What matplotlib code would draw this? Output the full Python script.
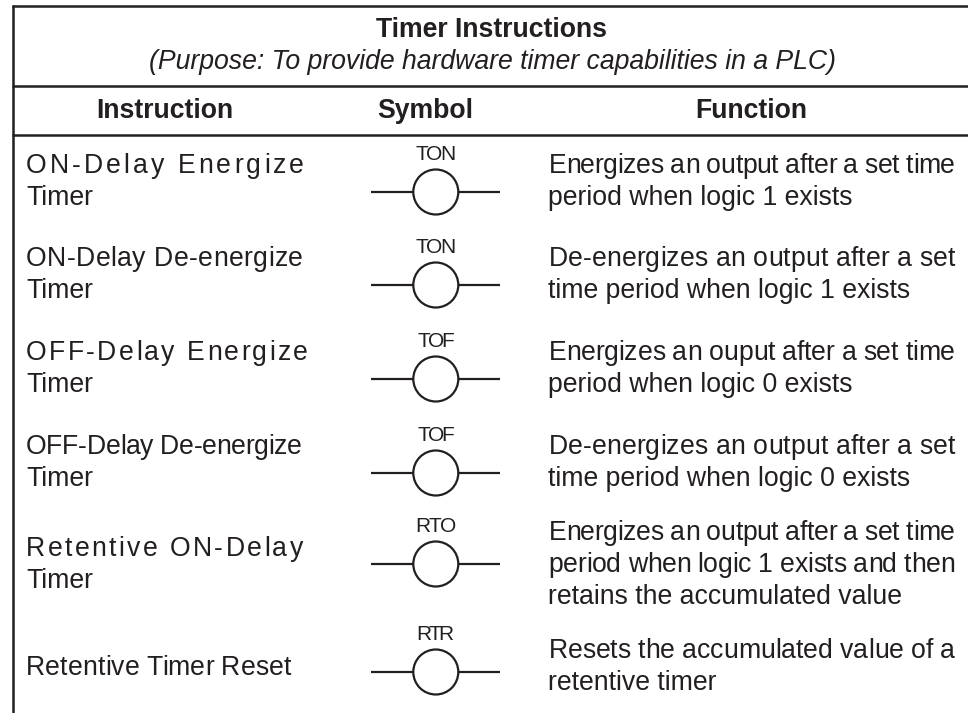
import matplotlib
matplotlib.use("Agg")
from matplotlib import pyplot as plt
from matplotlib.patches import Circle
from matplotlib.text import Text

plt.rcParams['font.family'] = ['Liberation Sans', 'DejaVu Sans']

W, H = 968, 713
title = "Timer Instructions"
subtitle = "(Purpose: To provide hardware timer capabilities in a PLC)"
headers = ["Instruction", "Symbol", "Function"]
names = [
    ["ON-Delay Energize", "Timer"],
    ["ON-Delay De-energize", "Timer"],
    ["OFF-Delay Energize", "Timer"],
    ["OFF-Delay De-energize", "Timer"],
    ["Retentive ON-Delay", "Timer"],
    ["Retentive Timer Reset"],
]
symbols = ["TON", "TON", "TOF", "TOF", "RTO", "RTR"]
functions = [
    ["Energizes an output after a set time", "period when logic 1 exists"],
    ["De-energizes an output after a set", "time period when logic 1 exists"],
    ["Energizes an ouput after a set time", "period when logic 0 exists"],
    ["De-energizes an output after a set", "time period when logic 0 exists"],
    ["Energizes an output after a set time", "period when logic 1 exists and then", "retains the accumulated value"],
    ["Resets the accumulated value of a", "retentive timer"],
]
rung_y = [192, 285, 379, 473, 564, 672]
name_base = [-19, -19, -19, -19, -8, 3]
func_base = [-19, -19, -19, -19, -24, -14]
LINE = 32
FS = 19.2
INK = '#231f20'


class FitText(Text):
    # matplotlib has no letter spacing: spread the glyphs so the line ends at x_end
    def __init__(self, *args, x_end=None, **kw):
        super().__init__(*args, **kw)
        self.x_end = x_end

    def draw(self, renderer):
        s = self.get_text()
        prop = self.get_fontproperties()
        x0, y0 = self.get_transform().transform(self.get_position())
        x1, _ = self.get_transform().transform((self.x_end, 0))
        width = lambda t: renderer.get_text_width_height_descent(t, prop, False)[0]
        step = (x1 - x0 - width(s)) / (len(s) - 1)
        gc = renderer.new_gc()
        gc.set_foreground(self.get_color())
        gc.set_antialiased(True)
        for i, ch in enumerate(s):
            renderer.draw_text(gc, x0 + width(s[:i]) + i * step, renderer.height - y0, ch, prop, 0, False)
        gc.restore()


fig = plt.figure(figsize=(W / 100, H / 100), dpi=100)
ax = fig.add_axes([0, 0, 1, 1])
ax.set_xlim(0, W)
ax.set_ylim(H, 0)
ax.axis('off')


def put(x, y, s, x_end=None, **kw):
    kw.setdefault('fontsize', FS)
    if x_end is not None:
        t = FitText(x, y, s, x_end=x_end, color=INK, va='baseline', ha='left', transform=ax.transData, **kw)
        ax.add_artist(t)
        return t
    return ax.text(x, y, s, color=INK, va='baseline', **kw)


# frame and header rules
ax.plot([12.5, 12.5], [4.5, H], color=INK, lw=1.8, solid_capstyle='butt')
for yy in [5.5, 86, 134.5]:
    ax.plot([12, W], [yy, yy], color=INK, lw=1.8, solid_capstyle='butt')

put(491.5, 37, title, ha='center', fontweight='bold')
put(492.5, 69, subtitle, ha='center', style='italic')
for x, h in zip([164.5, 425.5, 751.7], headers):
    put(x, 118, h, ha='center', fontweight='bold')

# the spread-out first lines of the name column, right ends
name_end = {"ON-Delay Energize": 304, "ON-Delay De-energize": 303, "OFF-Delay Energize": 308,
            "OFF-Delay De-energize": 302, "Retentive ON-Delay": 303, "Retentive Timer Reset": 291}
# symbol labels are set tight in the original
sym_span = {"TON": (415, 455), "TOF": (417, 454), "RTO": (415, 456), "RTR": (416, 453)}

for name, sym, func, y, nb, fb in zip(names, symbols, functions, rung_y, name_base, func_base):
    for i, t in enumerate(name):
        put(26, y + nb + i * LINE, t, x_end=name_end.get(t))
    put(sym_span[sym][0], y - 32, sym, x_end=sym_span[sym][1], fontsize=15)
    ax.plot([371, 414], [y, y], color=INK, lw=1.6, solid_capstyle='butt')
    ax.plot([458, 500], [y, y], color=INK, lw=1.6, solid_capstyle='butt')
    ax.add_patch(Circle((435.8, y), 22.5, fc='none', ec=INK, lw=1.6))
    for i, t in enumerate(func):
        # long lines are justified to the column edge
        end = 955 if len(t) >= 33 else None
        put(548.5, y + fb + i * LINE, t, x_end=end)

fig.savefig('out.png', dpi=100)
